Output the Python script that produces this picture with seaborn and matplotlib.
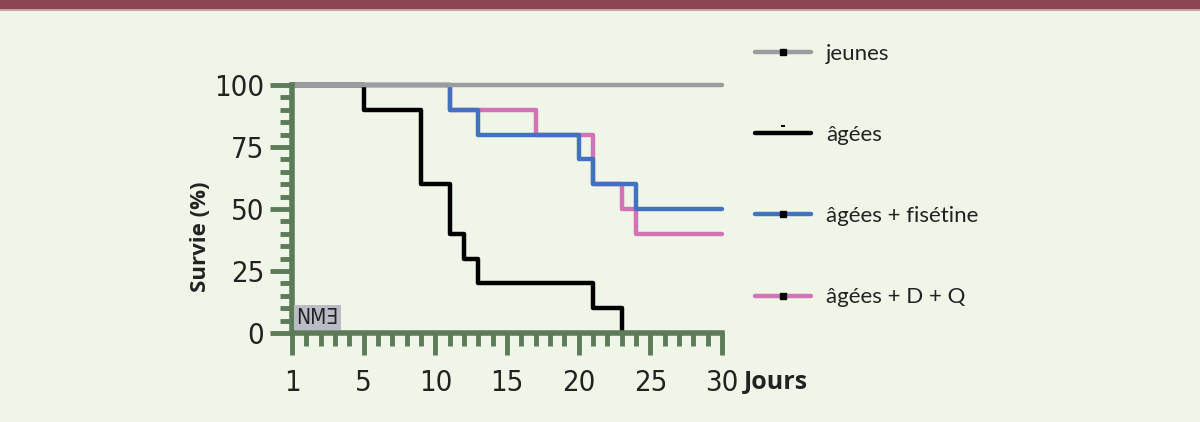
import matplotlib
matplotlib.use("Agg")
import matplotlib.pyplot as plt
from matplotlib.lines import Line2D
from matplotlib.legend_handler import HandlerTuple
from matplotlib.patches import Rectangle
from matplotlib.path import Path
import numpy as np
import pandas as pd
import seaborn as sns

# Courbes de survie (jours, % survie)
groups = ["jeunes", "âgées", "âgées + fisétine", "âgées + D + Q"]
days_jeunes = [0, 30]
surv_jeunes = [100, 100]
days_agees = [0, 5, 9, 11, 12, 13, 21, 23]
surv_agees = [100, 90, 60, 40, 30, 20, 10, 0]
days_fis = [0, 11, 13, 20, 21, 24, 30]
surv_fis = [100, 90, 80, 70, 60, 50, 50]
days_dq = [0, 11, 17, 21, 23, 24, 30]
surv_dq = [100, 90, 80, 60, 50, 40, 40]

x_ticks = [0, 5, 10, 15, 20, 25, 30]
x_labels = ["1", "5", "10", "15", "20", "25", "30"]
y_ticks = [0, 25, 50, 75, 100]

colors = {"jeunes": "#9b9c9e", "âgées": "#000000",
          "âgées + fisétine": "#4371c2", "âgées + D + Q": "#d173b6"}
BG = "#eff6e8"
GREEN = "#5b7b59"

df = pd.concat([
    pd.DataFrame({"jour": days_jeunes, "survie": surv_jeunes, "groupe": groups[0]}),
    pd.DataFrame({"jour": days_agees, "survie": surv_agees, "groupe": groups[1]}),
    pd.DataFrame({"jour": days_fis, "survie": surv_fis, "groupe": groups[2]}),
    pd.DataFrame({"jour": days_dq, "survie": surv_dq, "groupe": groups[3]}),
], ignore_index=True)

sns.set_style("white")

fig = plt.figure(figsize=(12, 4.22), dpi=100, facecolor=BG)
ax = fig.add_axes([292 / 1200, 1 - 333 / 422, 430 / 1200, 248 / 422])
ax.set_facecolor(BG)

# ordre de tracé : rose, bleu, noir, gris au-dessus
for g, z in [(groups[3], 2), (groups[2], 3), (groups[1], 4), (groups[0], 5)]:
    sub = df[df["groupe"] == g]
    sns.lineplot(data=sub, x="jour", y="survie", ax=ax, color=colors[g],
                 estimator=None, sort=False, drawstyle="steps-post",
                 lw=3.2, zorder=z, clip_on=False, legend=False)

ax.set_xlim(0, 30)
ax.set_ylim(0, 100)
ax.set_xticks(x_ticks)
ax.set_xticklabels(x_labels)
ax.set_xticks(np.arange(0, 31, 1), minor=True)
ax.set_yticks(y_ticks)
ax.set_yticks(np.arange(0, 101, 5), minor=True)
ax.set_xlabel("")
ax.set_ylabel("")

for s in ["top", "right"]:
    ax.spines[s].set_visible(False)
for s in ["left", "bottom"]:
    ax.spines[s].set_color(GREEN)
    ax.spines[s].set_linewidth(4)
    ax.spines[s].set_zorder(6)
ax.tick_params(which="both", bottom=True, left=True)
ax.tick_params(which="major", direction="out", length=16, width=3.5, color=GREEN,
               labelsize=21, labelcolor="#222222")
ax.tick_params(which="minor", direction="out", length=9, width=3.5, color=GREEN)
ax.tick_params(axis="x", which="major", pad=10)
ax.tick_params(axis="y", which="major", pad=4)
for lab in ax.get_xticklabels() + ax.get_yticklabels():
    lab.set_fontstretch("condensed")
    lab.set_fontweight("light")

# étiquette NMƎ
ax.text(0.3, 2.2, "NMƎ", fontsize=15, color="#222222", fontstretch="condensed",
        ha="left", va="bottom", zorder=7,
        bbox=dict(boxstyle="square,pad=0.12", fc="#b9bcc4", ec="none"))

fig.text(200 / 1200, 1 - 237 / 422, "Survie (%)", rotation=90, ha="center",
         va="center", fontsize=16, fontweight="bold", family=["Open Sans", "DejaVu Sans"],
         color="#222222")
fig.text(744 / 1200, 1 - 382 / 422, "Jours", ha="left", va="center", fontsize=18,
         fontweight="bold", family=["Open Sans", "DejaVu Sans"], color="#222222")

# légende : trait + petit repère noir (tiret au-dessus pour "âgées")
dash_marker = Path(
    [(0, -1), (-0.35, 0.85), (0.35, 0.85), (0.35, 1.15), (-0.35, 1.15), (-0.35, 0.85)],
    [Path.MOVETO, Path.MOVETO, Path.LINETO, Path.LINETO, Path.LINETO, Path.CLOSEPOLY])
handles = []
for g in groups:
    line = Line2D([], [], color=colors[g], lw=3.2)
    if g == "âgées":
        mk = Line2D([], [], color="black", marker=dash_marker, ms=11, mew=0, ls="none")
    else:
        mk = Line2D([], [], color="black", marker="s", ms=5, ls="none")
    handles.append((line, mk))
leg = fig.legend(handles, groups, loc="upper left", bbox_to_anchor=(735 / 1200, 1 - 24 / 422),
                 frameon=False, handlelength=2.5, handletextpad=0.7, labelspacing=2.75,
                 prop={"family": ["Lato", "DejaVu Sans"], "size": 16},
                 handler_map={tuple: HandlerTuple(ndivide=1, pad=0)})
for t in leg.get_texts():
    t.set_color("#222222")

# bandeau supérieur
fig.add_artist(Rectangle((0, 1 - 9 / 422), 1, 9 / 422, transform=fig.transFigure,
                         fc="#8c4552", ec="none"))
fig.add_artist(Rectangle((0, 1 - 10.5 / 422), 1, 1.5 / 422, transform=fig.transFigure,
                         fc="#c7a1a6", ec="none"))

fig.savefig("out.png", dpi=100, facecolor=BG)
